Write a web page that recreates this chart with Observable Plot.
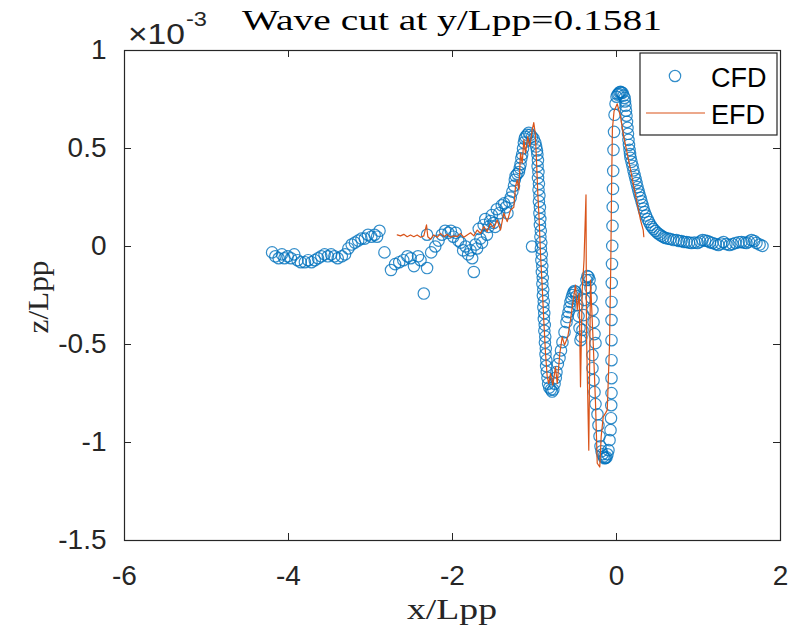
<!DOCTYPE html>
<html><head><meta charset="utf-8">
<script src="https://cdn.jsdelivr.net/npm/d3@7"></script>
<script src="https://cdn.jsdelivr.net/npm/@observablehq/plot@0.6"></script>
<style>body{margin:0;background:#fff}#chart{width:793px;height:639px}</style>
</head><body><div id="chart"></div>
<script>
// ---- data (z in units of 1e-3) ----
const titleText = "Wave cut at y/Lpp=0.1581";
const xLabel = "x/Lpp";
const yLabel = "z/Lpp";
const seriesNames = ["CFD", "EFD"];
const xTicks = [-6, -4, -2, 0, 2];
const yTicks = [-1.5, -1, -0.5, 0, 0.5, 1];

// CFD: far field upstream
const cfdXa = [-4.20,-4.16,-4.12,-4.08,-4.05,-4.01,-3.97,-3.93,-3.89,-3.85,
 -3.80,-3.76,-3.72,-3.68,-3.64,-3.60,-3.56,-3.52,-3.48,-3.44,
 -3.40,-3.35,-3.31,-3.27,-3.23,-3.19,-3.15,-3.11,-3.07,-3.03,
 -2.99,-2.95,-2.92,-2.89];
const cfdZa = [-0.03,-0.05,-0.06,-0.04,-0.06,-0.05,-0.06,-0.04,-0.07,-0.08,
 -0.08,-0.07,-0.08,-0.07,-0.06,-0.05,-0.04,-0.05,-0.04,-0.05,
 -0.06,-0.05,-0.04,-0.01,0.01,0.02,0.03,0.04,0.04,0.06,
 0.05,0.06,0.05,0.08];
// CFD: scattered region and first crest
const cfdXb = [-2.83,-2.75,-2.70,-2.65,-2.60,-2.55,-2.51,-2.47,-2.42,-2.39,
 -2.35,-2.31,-2.31,-2.26,-2.21,-2.17,-2.13,-2.09,-2.05,-2.02,
 -1.99,-1.96,-1.93,-1.90,-1.87,-1.84,-1.81,-1.78,-1.76,-1.74,
 -1.72,-1.70,-1.68,-1.66,-1.64,-1.62,-1.60,-1.58,-1.56,-1.54,
 -1.52,-1.50,-1.48,-1.46,-1.43,-1.40,-1.37,-1.35,-1.33,-1.31,
 -1.29,-1.27,-1.25,-1.24,-1.23,-1.21,-1.19,-1.18,-1.17,-1.16,
 -1.15,-1.14,-1.13,-1.12,-1.11,-1.09,-1.07,-1.05,-1.03,-1.01,
 -0.99,-0.98,-0.97,-1.03];
const cfdZb = [-0.03,-0.12,-0.09,-0.08,-0.07,-0.05,-0.06,-0.10,-0.05,-0.07,
 -0.24,-0.11,0.06,-0.03,0.00,0.03,0.06,0.08,0.07,0.08,
 0.05,0.07,0.03,0.02,-0.02,0.00,-0.04,-0.02,-0.06,-0.13,
 0.01,-0.01,0.09,0.04,0.02,0.11,0.14,0.06,0.10,0.13,
 0.16,0.12,0.10,0.19,0.17,0.21,0.22,0.20,0.17,0.23,
 0.25,0.28,0.31,0.34,0.36,0.37,0.38,0.40,0.42,0.45,
 0.47,0.50,0.53,0.55,0.56,0.57,0.58,0.57,0.56,0.55,
 0.53,0.51,0.49,0.00];
// CFD: steep descent after first crest
const cfdXc = [-0.965,-0.958,-0.962,-0.952,-0.957,-0.946,-0.951,-0.940,-0.946,-0.934,
 -0.940,-0.929,-0.934,-0.923,-0.928,-0.917,-0.922,-0.911,-0.916,-0.905,
 -0.910,-0.899,-0.904,-0.893,-0.898,-0.887,-0.892,-0.881,-0.886,-0.875,
 -0.880,-0.869,-0.873,-0.862,-0.866,-0.856,-0.858,-0.850,-0.842,-0.834];
const cfdZc = [0.47,0.44,0.41,0.38,0.35,0.32,0.29,0.26,0.23,0.20,
 0.17,0.14,0.11,0.08,0.05,0.02,-0.01,-0.04,-0.07,-0.10,
 -0.13,-0.16,-0.19,-0.22,-0.25,-0.28,-0.31,-0.34,-0.37,-0.40,
 -0.43,-0.46,-0.49,-0.52,-0.55,-0.58,-0.61,-0.64,-0.67,-0.70];
// CFD: troughs, middle bump and rise to bow crest
const cfdXd = [-0.820,-0.800,-0.785,-0.770,-0.755,-0.740,-0.732,-0.715,-0.695,-0.677,
 -0.659,-0.634,-0.610,-0.598,-0.585,-0.573,-0.561,-0.549,-0.537,-0.525,
 -0.512,-0.500,-0.488,-0.476,-0.463,-0.451,-0.439,-0.427,-0.415,-0.402,
 -0.390,-0.378,-0.366,-0.354,-0.342,-0.329,-0.317,-0.305,-0.293,-0.280,
 -0.268,-0.256,-0.293,-0.293,-0.280,-0.268,-0.256,-0.232,-0.220,-0.207,
 -0.195,-0.183,-0.171,-0.158,-0.146,-0.134,-0.122,-0.110,-0.098,-0.085,
 -0.073,-0.067,-0.064,-0.061,-0.061,-0.061,-0.061,-0.061,-0.061,-0.058,
 -0.055,-0.052,-0.049,-0.046,-0.043,-0.040,-0.037,-0.030,-0.024,-0.012];
const cfdZd = [-0.720,-0.730,-0.740,-0.730,-0.700,-0.670,-0.641,-0.600,-0.569,-0.530,
 -0.488,-0.437,-0.386,-0.360,-0.335,-0.310,-0.283,-0.265,-0.248,-0.235,
 -0.227,-0.232,-0.253,-0.299,-0.355,-0.416,-0.478,-0.460,-0.426,-0.350,
 -0.273,-0.212,-0.171,-0.151,-0.155,-0.171,-0.212,-0.263,-0.324,-0.386,
 -0.447,-0.493,-0.554,-0.621,-0.682,-0.743,-0.804,-0.856,-0.912,-0.968,
 -1.019,-1.045,-1.060,-1.072,-1.080,-1.079,-1.075,-1.060,-1.039,-0.988,
 -0.937,-0.876,-0.810,-0.748,-0.672,-0.580,-0.478,-0.375,-0.283,-0.186,
 -0.089,0.003,0.105,0.202,0.294,0.386,0.493,0.585,0.672,0.728];
// CFD: bow crest and downstream decay
const cfdXe = [0.000,0.012,0.024,0.037,0.049,0.061,0.073,0.086,0.098,0.104,
 0.110,0.116,0.122,0.128,0.134,0.140,0.146,0.152,0.159,0.165,
 0.171,0.183,0.195,0.207,0.220,0.232,0.244,0.256,0.268,0.280,
 0.293,0.305,0.317,0.329,0.341,0.360,0.378,0.396,0.415,0.433,
 0.451,0.475,0.500,0.525,0.549,0.574,0.598,0.629,0.659,0.695,
 0.732,0.762,0.793,0.823,0.854,0.885,0.915,0.950,0.988,1.020,
 1.049,1.080,1.110,1.140,1.171,1.210,1.244,1.275,1.305,1.340,
 1.378,1.415,1.451,1.490,1.524,1.555,1.585,1.615,1.646,1.680,
 1.707,1.745,1.780];
const cfdZe = [0.764,0.775,0.779,0.787,0.789,0.786,0.784,0.770,0.758,0.740,
 0.718,0.693,0.667,0.636,0.605,0.575,0.544,0.518,0.493,0.472,
 0.452,0.432,0.411,0.388,0.365,0.345,0.324,0.303,0.283,0.265,
 0.248,0.230,0.212,0.194,0.176,0.158,0.140,0.125,0.110,0.099,
 0.089,0.079,0.069,0.061,0.054,0.048,0.043,0.040,0.038,0.033,
 0.033,0.028,0.028,0.023,0.023,0.020,0.018,0.020,0.018,0.025,
 0.033,0.030,0.028,0.022,0.018,0.012,0.008,0.015,0.023,0.012,
 0.008,0.012,0.018,0.022,0.023,0.020,0.018,0.025,0.033,0.028,
 0.018,0.010,0.003];

// EFD measurement
const efdX = [-2.674,-2.634,-2.594,-2.553,-2.512,-2.472,-2.431,-2.390,-2.350,-2.317,
 -2.301,-2.268,-2.228,-2.187,-2.146,-2.106,-2.065,-2.024,-1.984,-1.943,
 -1.902,-1.862,-1.821,-1.780,-1.740,-1.699,-1.659,-1.618,-1.577,-1.537,
 -1.496,-1.455,-1.415,-1.374,-1.333,-1.293,-1.252,-1.232,-1.211,-1.191,
 -1.171,-1.150,-1.130,-1.110,-1.082,-1.057,-1.028,-1.009,-0.991,-0.976,
 -0.960,-0.943,-0.927,-0.906,-0.887,-0.866,-0.845,-0.826,-0.805,-0.777,
 -0.744,-0.723,-0.691,-0.662,-0.634,-0.594,-0.561,-0.528,-0.500,-0.479,
 -0.455,-0.439,-0.418,-0.396,-0.372,-0.366,-0.338,-0.317,-0.284,-0.256,
 -0.235,-0.204,-0.187,-0.162,-0.134,-0.113,-0.085,-0.070,-0.060,-0.050,
 -0.030,0.009,0.049,0.089,0.130,0.171,0.211,0.252,0.293,0.326,
 0.333];
const efdZ = [0.059,0.054,0.062,0.050,0.059,0.050,0.059,0.047,0.054,0.110,
 0.050,0.037,0.059,0.047,0.067,0.050,0.062,0.047,0.054,0.050,
 0.067,0.047,0.059,0.070,0.054,0.084,0.067,0.101,0.076,0.118,
 0.093,0.135,0.084,0.170,0.127,0.186,0.200,0.305,0.340,0.289,
 0.476,0.425,0.544,0.476,0.561,0.510,0.595,0.632,0.578,0.442,
 0.272,0.135,-0.035,-0.205,-0.375,-0.545,-0.665,-0.699,-0.648,-0.707,
 -0.614,-0.699,-0.545,-0.461,-0.503,-0.461,-0.375,-0.273,-0.197,-0.324,
 -0.239,-0.716,-0.222,-0.069,0.263,-0.442,-1.039,-0.171,-0.493,-0.799,
 -1.106,-1.125,-0.971,-0.869,-0.850,-0.835,-0.500,-0.100,0.300,0.600,
 0.690,0.728,0.663,0.561,0.476,0.391,0.305,0.221,0.135,0.084,
 0.050];

// ---- build tables ----
const cfdX = [...cfdXa, ...cfdXb, ...cfdXc, ...cfdXd, ...cfdXe];
const cfdZ = [...cfdZa, ...cfdZb, ...cfdZc, ...cfdZd, ...cfdZe];
const cfd = cfdX.map((x, i) => ({x, z: cfdZ[i]}));
const efd = efdX.map((x, i) => ({x, z: efdZ[i]}));

const axisColor = "#262626";
const blue = "#0072BD", orange = "#D95319";
const W = 793, H = 639, mL = 124, mR = 13, mT = 50, mB = 99;
const frameH = H - mT - mB, frameW = W - mL - mR;
const fmt = d => String(d);
const sans = "'Liberation Sans', Arial, sans-serif";

const svgEl = Plot.plot({
  width: W, height: H,
  marginLeft: mL, marginRight: mR, marginTop: mT, marginBottom: mB,
  style: {fontFamily: sans, fontSize: "28px", color: axisColor, background: "white", overflow: "visible"},
  x: {domain: [-6, 2]},
  y: {domain: [-1.5, 1]},
  marks: [
    Plot.dot(cfd, {x: "x", y: "z", r: 5.7, stroke: blue, strokeWidth: 1.2, strokeOpacity: 0.8, fill: "none"}),
    Plot.line(efd, {x: "x", y: "z", stroke: orange, strokeWidth: 1.2}),
    Plot.frame({stroke: axisColor, strokeWidth: 1.2}),
    Plot.ruleX(xTicks, {x: d => d, stroke: axisColor, insetBottom: frameH - 7}),
    Plot.ruleX(xTicks, {x: d => d, stroke: axisColor, insetTop: frameH - 7}),
    Plot.ruleY(yTicks, {y: d => d, stroke: axisColor, insetRight: frameW - 7}),
    Plot.ruleY(yTicks, {y: d => d, stroke: axisColor, insetLeft: frameW - 7}),
    Plot.axisX(xTicks, {anchor: "bottom", tickSize: 0, tickPadding: 25, tickFormat: fmt, label: null}),
    Plot.axisY(yTicks, {anchor: "left", tickSize: 0, tickPadding: 18, tickFormat: fmt, label: null})
  ]
});
document.getElementById("chart").appendChild(svgEl);

const svg = d3.select(svgEl);
const serif = "'Liberation Serif', 'Times New Roman', serif";
svg.append("text").attr("x", 452).attr("y", 30).attr("text-anchor", "middle")
  .style("font-family", serif).style("font-size", "29px").attr("fill", "#000")
  .attr("textLength", 420).attr("lengthAdjust", "spacingAndGlyphs").text(titleText);
// scale multiplier ×10^-3
svg.append("text").attr("x", 128).attr("y", 44).attr("text-anchor", "start")
  .attr("fill", axisColor).style("font-family", sans).style("font-size", "29px")
  .attr("textLength", 57).attr("lengthAdjust", "spacingAndGlyphs").text("×10");
svg.append("text").attr("x", 186).attr("y", 26).attr("text-anchor", "start")
  .attr("fill", axisColor).style("font-family", sans).style("font-size", "21px")
  .attr("textLength", 21).attr("lengthAdjust", "spacingAndGlyphs").text("-3");
svg.append("text").attr("x", 452).attr("y", 619).attr("text-anchor", "middle")
  .style("font-family", serif).style("font-size", "29px").attr("fill", axisColor)
  .attr("textLength", 90).attr("lengthAdjust", "spacingAndGlyphs").text(xLabel);
svg.append("text").attr("transform", "translate(48,297) rotate(-90)").attr("text-anchor", "middle")
  .style("font-family", serif).style("font-size", "29px").attr("fill", axisColor)
  .attr("textLength", 73).attr("lengthAdjust", "spacingAndGlyphs").text(yLabel);

// legend
const lg = svg.append("g");
lg.append("rect").attr("x", 640).attr("y", 53).attr("width", 137).attr("height", 82)
  .attr("fill", "white").attr("stroke", axisColor).attr("stroke-width", 1.2);
lg.append("circle").attr("cx", 675).attr("cy", 76).attr("r", 5.7)
  .attr("fill", "none").attr("stroke", blue).attr("stroke-width", 1.2).attr("stroke-opacity", 0.8);
lg.append("line").attr("x1", 646).attr("x2", 705).attr("y1", 113).attr("y2", 113)
  .attr("stroke", orange).attr("stroke-width", 1.2);
lg.selectAll("text.lab").data(seriesNames).join("text").attr("class", "lab")
  .attr("x", 711).attr("y", (d, i) => 87 + i * 37).attr("text-anchor", "start")
  .style("font-family", sans).style("font-size", "27px")
  .attr("fill", "#000").text(d => d);
</script>
</body></html>
